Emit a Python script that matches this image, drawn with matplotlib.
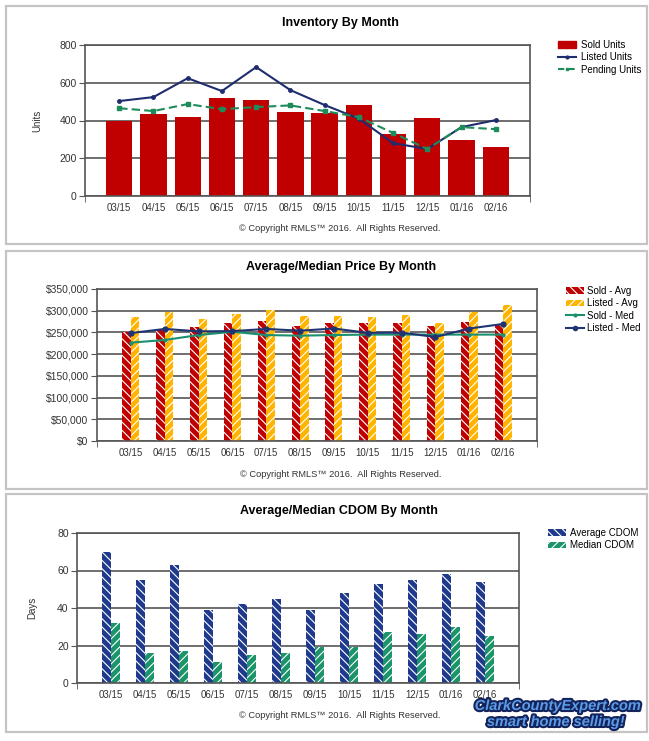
import matplotlib
matplotlib.use("Agg")
import matplotlib.pyplot as plt
import matplotlib.patheffects as pe
from matplotlib.patches import Rectangle, Patch
from matplotlib.lines import Line2D
from matplotlib.ticker import FuncFormatter
import numpy as np

plt.rcParams['font.family'] = ['Liberation Sans', 'DejaVu Sans']
plt.rcParams['hatch.linewidth'] = 0.8

# data
months = ['03/15', '04/15', '05/15', '06/15', '07/15', '08/15',
          '09/15', '10/15', '11/15', '12/15', '01/16', '02/16']

sold_units = [400, 434, 418, 519, 508, 445, 439, 482, 328, 413, 296, 259]
listed_units = [503, 524, 624, 556, 683, 561, 482, 410, 280, 249, 365, 402]
pending_units = [465, 450, 487, 460, 471, 480, 450, 418, 334, 249, 365, 354]

sold_avg = [250000, 256000, 262000, 272500, 276500, 265000,
            272500, 271000, 271000, 265500, 273000, 268000]
listed_avg = [285000, 298000, 281000, 292500, 301500, 288500,
              288000, 286500, 290000, 272000, 298000, 313000]
sold_med = [226500, 232500, 244000, 251500, 244000, 242500,
            244000, 245000, 245000, 245000, 245000, 245000]
listed_med = [248500, 258000, 252500, 253000, 258000, 254000,
              259000, 249000, 249500, 239500, 259000, 269500]

avg_cdom = [70, 55, 63, 39, 42, 45, 39, 48, 53, 55, 58, 54]
med_cdom = [32, 16, 17, 11, 15, 16, 19, 19, 27, 26, 30, 25]

W, H = 649, 741
fig = plt.figure(figsize=(W / 100, H / 100), dpi=100)


def fx(px):
    return px / W


def fy(py):
    return 1 - py / H


def make_ax(x0, x1, y0, y1):
    ax = fig.add_axes([fx(x0), fy(y1), fx(x1 - x0), (y1 - y0) / H])
    ax.set_xlim(-1, 12)
    for s in ax.spines.values():
        s.set_color('#555555')
        s.set_linewidth(1.2)
    ax.yaxis.grid(True, color='#555555', linewidth=1.2)
    ax.set_axisbelow(True)
    ax.set_xticks(range(len(months)))
    ax.set_xticklabels(months)
    ax.set_xticks([-1, 12], minor=True)
    ax.tick_params(axis='x', which='major', length=0, pad=5, labelsize=7, labelcolor='#333333')
    ax.tick_params(axis='x', which='minor', length=4, color='#555555')
    ax.tick_params(axis='y', length=4, color='#555555', labelsize=7.5, labelcolor='#333333', pad=2)
    return ax


# panel borders
for top, bot in [(6, 244), (251, 489), (494, 732)]:
    fig.add_artist(Rectangle((fx(6), fy(bot)), fx(641), (bot - top) / H,
                             transform=fig.transFigure, fill=False,
                             edgecolor='#c4c4c4', linewidth=1.6))

x = np.arange(len(months))
copy_txt = '\u00a9 Copyright RMLS\u2122 2016.  All Rights Reserved.'

# ---- chart 1: inventory
ax1 = make_ax(85, 530, 45, 196)
ax1.bar(x, sold_units, width=0.77, color='#c00000', zorder=2)
ax1.plot(x, listed_units, color='#1f2d6e', lw=1.5, marker='o', ms=2.5, zorder=3)
ax1.plot(x, pending_units, color='#1e8c5a', lw=1.5, ls=(0, (4, 2)), marker='s', ms=3, zorder=3)
ax1.set_ylim(0, 800)
ax1.set_yticks([0, 200, 400, 600, 800])
ax1.set_ylabel('Units', fontsize=7, color='#333333', labelpad=12)
fig.text(fx(340), fy(23), 'Inventory By Month', ha='center', va='center', fontsize=9, fontweight='bold')
fig.text(fx(340), fy(229), copy_txt, ha='center', va='center', fontsize=6.7, color='#333333')
h1 = [Patch(color='#c00000'),
      Line2D([], [], color='#1f2d6e', lw=1.5, marker='o', ms=2),
      Line2D([], [], color='#1e8c5a', lw=1.5, ls=(0, (3, 2)), marker='s', ms=2)]
fig.legend(h1, ['Sold Units', 'Listed Units', 'Pending Units'], loc='upper left',
           bbox_to_anchor=(fx(558), fy(40)), frameon=False, fontsize=7,
           handlelength=1.9, handletextpad=0.5, labelspacing=0.25, borderpad=0, borderaxespad=0)

# ---- chart 2: price
bw = 0.25
ax2 = make_ax(97, 537, 289, 441)
ax2.bar(x - bw / 2, sold_avg, width=bw, color='#c00000', edgecolor='white', lw=0,
        hatch='\\\\\\\\', zorder=2)
ax2.bar(x + bw / 2, listed_avg, width=bw, color='#ffb400', edgecolor='white', lw=0,
        hatch='////', zorder=2)
ax2.plot(x, sold_med, color='#1a9070', lw=1.5, marker='o', ms=2, zorder=3)
ax2.plot(x, listed_med, color='#1f3473', lw=1.5, marker='o', ms=3.5, zorder=3)
ax2.set_ylim(0, 350000)
ax2.set_yticks(range(0, 350001, 50000))
ax2.yaxis.set_major_formatter(FuncFormatter(lambda v, p: '${:,.0f}'.format(v)))
fig.text(fx(341), fy(267), 'Average/Median Price By Month', ha='center', va='center', fontsize=9, fontweight='bold')
fig.text(fx(341), fy(474), copy_txt, ha='center', va='center', fontsize=6.7, color='#333333')
h2 = [Patch(facecolor='#c00000', edgecolor='white', hatch='\\\\\\\\', lw=0),
      Patch(facecolor='#ffb400', edgecolor='white', hatch='////', lw=0),
      Line2D([], [], color='#1a9070', lw=1.5, marker='o', ms=2),
      Line2D([], [], color='#1f3473', lw=1.5, marker='o', ms=3)]
fig.legend(h2, ['Sold - Avg', 'Listed - Avg', 'Sold - Med', 'Listed - Med'], loc='upper left',
           bbox_to_anchor=(fx(566), fy(286)), frameon=False, fontsize=7,
           handlelength=1.9, handletextpad=0.3, labelspacing=0.25, borderpad=0, borderaxespad=0)

# ---- chart 3: CDOM
bw3 = 0.265
ax3 = make_ax(77, 519, 533, 683)
ax3.bar(x - bw3 / 2, avg_cdom, width=bw3, color='#1f3a8c', edgecolor='white', lw=0,
        hatch='\\\\\\\\', zorder=2)
ax3.bar(x + bw3 / 2, med_cdom, width=bw3, color='#1a9468', edgecolor='white', lw=0,
        hatch='////', zorder=2)
ax3.set_ylim(0, 80)
ax3.set_yticks([0, 20, 40, 60, 80])
ax3.set_ylabel('Days', fontsize=7, color='#333333', labelpad=14)
fig.text(fx(339), fy(511), 'Average/Median CDOM By Month', ha='center', va='center', fontsize=9, fontweight='bold')
fig.text(fx(340), fy(716), copy_txt, ha='center', va='center', fontsize=6.7, color='#333333')
h3 = [Patch(facecolor='#1f3a8c', edgecolor='white', hatch='\\\\\\\\', lw=0),
      Patch(facecolor='#1a9468', edgecolor='white', hatch='////', lw=0)]
fig.legend(h3, ['Average CDOM', 'Median CDOM'], loc='upper left',
           bbox_to_anchor=(fx(548), fy(528)), frameon=False, fontsize=7,
           handlelength=1.9, handletextpad=0.4, labelspacing=0.25, borderpad=0, borderaxespad=0)

# logo text
logo_fx = [pe.withStroke(linewidth=3, foreground='#14245a')]
fig.text(fx(558), fy(706), 'ClarkCountyExpert.com', ha='center', va='center', fontsize=10.5,
         fontweight='bold', style='italic', color='#5b9be8', path_effects=logo_fx)
fig.text(fx(556), fy(722), 'smart home selling!', ha='center', va='center', fontsize=10.5,
         fontweight='bold', style='italic', color='#5b9be8', path_effects=logo_fx)

fig.savefig('out.png', dpi=100)
